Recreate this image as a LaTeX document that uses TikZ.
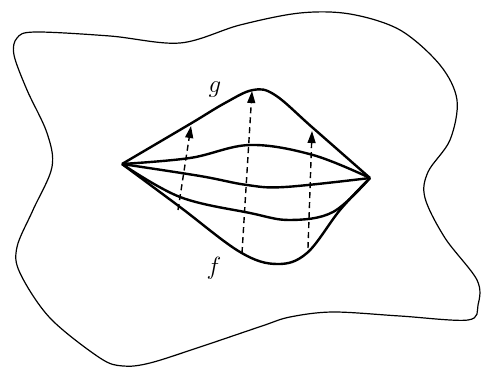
\documentclass[tikz,border=0pt]{standalone}
\usetikzlibrary{arrows.meta}
\begin{document}
\begin{tikzpicture}[x=1pt,y=-1pt,
  blob/.style={line width=1.2pt},
  lens/.style={line width=2.4pt, line join=round},
  lift/.style={dash pattern=on 6pt off 4pt, line width=1.4pt, -{Triangle[length=12pt,width=8pt]}},
  lbl/.style={font=\fontsize{26}{28}\selectfont, inner sep=0pt}]
\useasboundingbox (0,0) rectangle (482,367);
% outer region
\draw[blob] plot[smooth cycle, tension=0.55] coordinates {
  (35,32) (110,36) (180,43) (240,25) (300,13) (350,14) (400,30) (440,65)
  (457,100) (450,140) (428,172) (425,198) (445,238) (477,280) (478,305)
  (468,320) (400,316) (333,312) (290,317) (262,326) (200,347) (150,363)
  (123,366) (100,358) (50,318) (20,273) (17,247) (33,210) (52,167)
  (47,133) (27,90) (14,55) (17,38)};
% vertices
\coordinate (L) at (122,164);
\coordinate (R) at (370,178);
% curves
\draw[lens] plot[smooth, tension=0.6] coordinates {(L) (190,124) (225,103) (253,90) (275,95) (313,128) (R)};
\draw[lens] plot[smooth, tension=0.6] coordinates {(L) (190,158) (250,145) (313,155) (R)};
\draw[lens] plot[smooth, tension=0.6] coordinates {(L) (200,176) (247,185) (285,187) (R)};
\draw[lens] plot[smooth, tension=0.6] coordinates {(L) (180,197) (250,213) (290,220) (333,212) (R)};
\draw[lens] plot[smooth, tension=0.6] coordinates {(L) (180,207) (240,252) (277,264) (307,253) (340,210) (R)};
% lift arrows
\coordinate (a1) at (178,210);
\coordinate (b1) at (191,126);
\coordinate (a2) at (242,253);
\coordinate (b2) at (252,91);
\coordinate (a3) at (308,248);
\coordinate (b3) at (312,131);
\draw[lift] (a1) -- (b1);
\draw[lift] (a2) -- (b2);
\draw[lift] (a3) -- (b3);
% labels
\node[lbl] (g) at (215,90) {$g$};
\node[lbl] (f) at (214,268) {$f$};
\end{tikzpicture}
\end{document}
